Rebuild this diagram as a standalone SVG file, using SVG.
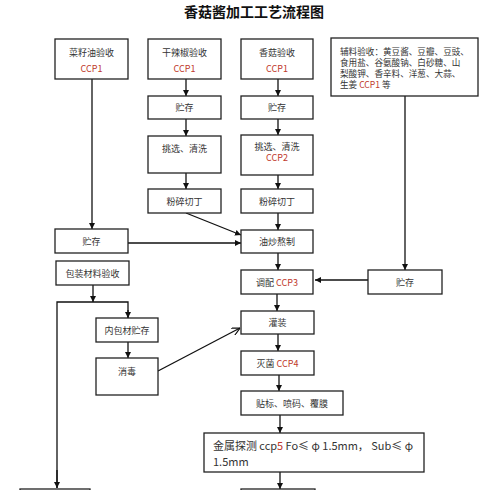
<svg xmlns="http://www.w3.org/2000/svg" width="500" height="490" viewBox="0 0 500 490">
<defs>
<style>
.box{fill:#fff;stroke:#222;stroke-width:1.3}
.t{font-family:"Noto Sans CJK SC","Liberation Serif",serif;font-size:9px;fill:#333;text-anchor:middle}
.l{font-family:"Noto Sans CJK SC","Liberation Serif",serif;font-size:8.6px;fill:#333}
.r{fill:#c0392b}
.c{fill:none;stroke:#111;stroke-width:1.3}
.title{font-family:"Noto Sans CJK SC",sans-serif;font-size:14px;font-weight:bold;fill:#111;text-anchor:middle}
</style>
<marker id="a" viewBox="0 0 10 10" refX="10" refY="5" markerWidth="6" markerHeight="6" markerUnits="userSpaceOnUse" orient="auto">
<path d="M0,0 L10,5 L0,10 z" fill="#111"/>
</marker>
<marker id="o" viewBox="0 0 10 10" refX="10" refY="5" markerWidth="8" markerHeight="8" markerUnits="userSpaceOnUse" orient="auto">
<path d="M0,0 L10,5 L0,10" fill="none" stroke="#111" stroke-width="1.5"/>
</marker>
</defs>
<rect width="500" height="490" fill="#fff"/>
<text class="title" x="254" y="17">香菇酱加工工艺流程图</text>

<g id="connectors">
<line class="c" x1="92" y1="79" x2="92" y2="229" marker-end="url(#a)"/>
<line class="c" x1="186" y1="79" x2="186" y2="96" marker-end="url(#a)"/>
<line class="c" x1="186" y1="119" x2="186" y2="136" marker-end="url(#a)"/>
<line class="c" x1="186" y1="173" x2="186" y2="189" marker-end="url(#a)"/>
<line class="c" x1="186" y1="213" x2="241" y2="235" marker-end="url(#a)"/>
<line class="c" x1="278" y1="79" x2="278" y2="96" marker-end="url(#a)"/>
<line class="c" x1="278" y1="119" x2="278" y2="135" marker-end="url(#a)"/>
<line class="c" x1="278" y1="175" x2="278" y2="189" marker-end="url(#a)"/>
<line class="c" x1="278" y1="213" x2="278" y2="230" marker-end="url(#a)"/>
<line class="c" x1="128" y1="243" x2="241" y2="243" marker-end="url(#a)"/>
<line class="c" x1="278" y1="253" x2="278" y2="270" marker-end="url(#a)"/>
<line class="c" x1="405" y1="96" x2="405" y2="270" marker-end="url(#a)"/>
<line class="c" x1="368" y1="280" x2="315" y2="280" marker-end="url(#a)"/>
<line class="c" x1="277" y1="294" x2="277" y2="311" marker-end="url(#a)"/>
<line class="c" x1="93" y1="285" x2="93" y2="302" marker-end="url(#a)"/>
<polyline class="c" points="57,488 57,302 128,302 128,318"/>
<line class="c" x1="128" y1="310" x2="128" y2="318" marker-end="url(#a)"/>
<line class="c" x1="57" y1="470" x2="57" y2="488" marker-end="url(#a)"/>
<line class="c" x1="128" y1="342" x2="128" y2="358" marker-end="url(#a)"/>
<line class="c" x1="158" y1="371" x2="240" y2="328" marker-end="url(#o)"/>
<line class="c" x1="278" y1="334" x2="278" y2="351" marker-end="url(#a)"/>
<line class="c" x1="279" y1="375" x2="279" y2="391" marker-end="url(#a)"/>
<line class="c" x1="280" y1="415" x2="280" y2="433" marker-end="url(#a)"/>
<line class="c" x1="280" y1="472" x2="280" y2="489" marker-end="url(#a)"/>
</g>

<g id="n-caiziyou"><rect class="box" x="55" y="39" width="73" height="40"/><text class="t" x="91.5" y="55.5">菜籽油验收</text><text class="t r" x="91.5" y="71.5">CCP1</text></g>
<g id="n-ganlajiao"><rect class="box" x="148" y="39" width="73" height="40"/><text class="t" x="184.5" y="55.5">干辣椒验收</text><text class="t r" x="184.5" y="71.5">CCP1</text></g>
<g id="n-xianggu"><rect class="box" x="241" y="39" width="72" height="40"/><text class="t" x="277" y="55.5">香菇验收</text><text class="t r" x="277" y="71.5">CCP1</text></g>
<g id="n-fuliao"><rect class="box" x="331" y="38" width="147" height="58"/>
<text class="l" x="340" y="54.5">辅料验收：黄豆酱、豆瓣、豆豉、</text>
<text class="l" x="340" y="65.5">食用盐、谷氨酸钠、白砂糖、山</text>
<text class="l" x="340" y="76.5">梨酸钾、香辛料、洋葱、大蒜、</text>
<text class="l" x="340" y="87.5">生姜 <tspan class="r">CCP1</tspan> 等</text></g>
<g id="n-zhucun2"><rect class="box" x="148" y="96" width="73" height="23"/><text class="t" x="184.5" y="111">贮存</text></g>
<g id="n-zhucun3"><rect class="box" x="241" y="96" width="72" height="23"/><text class="t" x="277" y="111">贮存</text></g>
<g id="n-tiaoxuan2"><rect class="box" x="148" y="136" width="73" height="37"/><text class="t" x="184.5" y="151.5">挑选、清洗</text></g>
<g id="n-tiaoxuan3"><rect class="box" x="241" y="135" width="72" height="40"/><text class="t" x="277" y="149.5">挑选、清洗</text><text class="t r" x="277" y="161">CCP2</text></g>
<g id="n-fensui2"><rect class="box" x="148" y="189" width="73" height="24"/><text class="t" x="184.5" y="204.5">粉碎切丁</text></g>
<g id="n-fensui3"><rect class="box" x="241" y="189" width="72" height="24"/><text class="t" x="277" y="204.5">粉碎切丁</text></g>
<g id="n-zhucun1"><rect class="box" x="55" y="229" width="73" height="24"/><text class="t" x="91.5" y="244.5">贮存</text></g>
<g id="n-youchao"><rect class="box" x="241" y="230" width="72" height="23"/><text class="t" x="277" y="245">油炒熬制</text></g>
<g id="n-baozhuang"><rect class="box" x="56" y="261" width="73" height="24"/><text class="t" x="92.5" y="276.5">包装材料验收</text></g>
<g id="n-tiaopei"><rect class="box" x="241" y="270" width="72" height="24"/><text class="t" x="277" y="285.5">调配 <tspan class="r">CCP3</tspan></text></g>
<g id="n-zhucun4"><rect class="box" x="368" y="270" width="74" height="24"/><text class="t" x="405" y="285.5">贮存</text></g>
<g id="n-neibao"><rect class="box" x="96" y="318" width="62" height="24"/><text class="t" x="127" y="333.5">内包材贮存</text></g>
<g id="n-guanzhuang"><rect class="box" x="241" y="311" width="73" height="23"/><text class="t" x="277.5" y="326">灌装</text></g>
<g id="n-xiaodu"><rect class="box" x="96" y="358" width="62" height="37"/><text class="t" x="127" y="374.5">消毒</text></g>
<g id="n-miejun"><rect class="box" x="241" y="351" width="73" height="24"/><text class="t" x="277.5" y="366.5">灭菌 <tspan class="r">CCP4</tspan></text></g>
<g id="n-tiebiao"><rect class="box" x="241" y="391" width="102" height="24"/><text class="t" x="292" y="406.5">贴标、喷码、覆膜</text></g>
<g id="n-jinshu"><rect class="box" x="204" y="433" width="220" height="39"/>
<text class="l" style="font-size:11px" x="213" y="450" textLength="200" lengthAdjust="spacingAndGlyphs">金属探测  ccp<tspan class="r">5</tspan>  Fo≤ φ 1.5mm， Sub≤ φ</text>
<text class="l" style="font-size:11px" x="213" y="466">1.5mm</text></g>
<g id="n-bottom-left"><rect class="box" x="20" y="489" width="70" height="20"/></g>
<g id="n-bottom-mid"><rect class="box" x="241" y="489" width="74" height="20"/></g>
</svg>
